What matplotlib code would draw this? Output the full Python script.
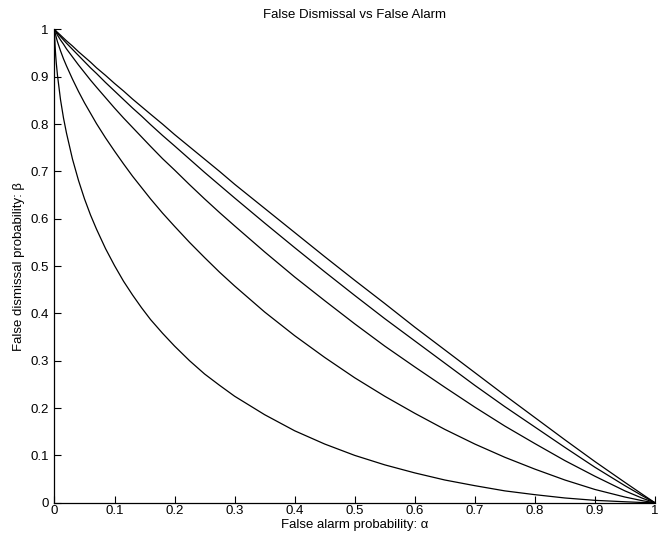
import matplotlib
matplotlib.use('Agg')
from matplotlib import pyplot as plt

plt.rcParams['font.family'] = ['Liberation Sans', 'DejaVu Sans']

# false alarm probability (alpha) grid read along the x axis
alpha = [0, 0.0002, 0.001, 0.002, 0.003, 0.005, 0.01, 0.015, 0.02, 0.03, 0.04, 0.05,
         0.06, 0.07, 0.085, 0.1, 0.115, 0.13, 0.145, 0.16, 0.18, 0.2, 0.225, 0.25,
         0.275, 0.3, 0.35, 0.4, 0.45, 0.5, 0.55, 0.6, 0.65, 0.7, 0.75, 0.8, 0.85,
         0.9, 0.95, 0.98, 1.0]

# false dismissal probability (beta) for each curve, top to bottom
beta_1 = [1, 1.000, 0.999, 0.998, 0.996, 0.994, 0.988, 0.982, 0.976, 0.965, 0.953, 0.942,
          0.931, 0.919, 0.903, 0.886, 0.870, 0.853, 0.837, 0.821, 0.800, 0.778, 0.752, 0.726,
          0.700, 0.673, 0.622, 0.571, 0.520, 0.470, 0.421, 0.371, 0.323, 0.275, 0.227, 0.180,
          0.133, 0.087, 0.043, 0.017, 0]
beta_2 = [1, 1.000, 0.998, 0.997, 0.995, 0.992, 0.985, 0.978, 0.971, 0.958, 0.945, 0.932,
          0.919, 0.907, 0.888, 0.870, 0.852, 0.834, 0.817, 0.799, 0.776, 0.754, 0.726, 0.698,
          0.671, 0.644, 0.591, 0.539, 0.488, 0.438, 0.389, 0.342, 0.295, 0.248, 0.203, 0.160,
          0.117, 0.075, 0.036, 0.014, 0]
beta_3 = [1, 0.999, 0.997, 0.995, 0.993, 0.988, 0.978, 0.969, 0.959, 0.942, 0.925, 0.909,
          0.893, 0.878, 0.856, 0.834, 0.813, 0.793, 0.773, 0.753, 0.727, 0.703, 0.672, 0.642,
          0.613, 0.585, 0.530, 0.477, 0.427, 0.378, 0.331, 0.287, 0.244, 0.202, 0.162, 0.125,
          0.089, 0.056, 0.025, 0.009, 0]
beta_4 = [1, 0.998, 0.993, 0.988, 0.983, 0.974, 0.955, 0.938, 0.923, 0.895, 0.869, 0.845,
          0.823, 0.801, 0.771, 0.743, 0.716, 0.690, 0.666, 0.642, 0.612, 0.584, 0.550, 0.518,
          0.487, 0.458, 0.403, 0.353, 0.307, 0.264, 0.225, 0.189, 0.155, 0.124, 0.096, 0.071,
          0.048, 0.028, 0.012, 0.004, 0]
beta_5 = [1, 0.988, 0.965, 0.945, 0.929, 0.903, 0.852, 0.813, 0.781, 0.726, 0.681, 0.642,
          0.608, 0.578, 0.537, 0.501, 0.468, 0.439, 0.412, 0.387, 0.358, 0.331, 0.300, 0.272,
          0.248, 0.225, 0.186, 0.152, 0.124, 0.100, 0.080, 0.063, 0.048, 0.036, 0.025, 0.017,
          0.010, 0.005, 0.002, 0.0004, 0]

curves = [beta_1, beta_2, beta_3, beta_4, beta_5]
ticks = [0, 0.1, 0.2, 0.3, 0.4, 0.5, 0.6, 0.7, 0.8, 0.9, 1]
tick_labels = ['0', '0.1', '0.2', '0.3', '0.4', '0.5', '0.6', '0.7', '0.8', '0.9', '1']

fig = plt.figure(figsize=(6.62, 5.38), dpi=100)
ax = fig.add_axes([0.0823, 0.0656, 0.907, 0.8796])

for b in curves:
    ax.plot(alpha, b, color='black', linewidth=0.9)

ax.set_xlim(0, 1)
ax.set_ylim(0, 1)
ax.set_xticks(ticks)
ax.set_xticklabels(tick_labels)
ax.set_yticks(ticks)
ax.set_yticklabels(tick_labels)
ax.tick_params(direction='in', length=5, width=0.8, labelsize=9.5)
ax.tick_params(axis='x', pad=2)
ax.tick_params(axis='y', pad=4)
ax.spines['top'].set_visible(False)
ax.spines['right'].set_visible(False)
for s in ['left', 'bottom']:
    ax.spines[s].set_linewidth(0.9)

ax.set_title('False Dismissal vs False Alarm', fontsize=9.5, pad=8)
ax.set_xlabel('False alarm probability: α', fontsize=9.5, labelpad=1)
ax.set_ylabel('False dismissal probability: β', fontsize=9.5, labelpad=4)

fig.savefig('out.png', dpi=100)
